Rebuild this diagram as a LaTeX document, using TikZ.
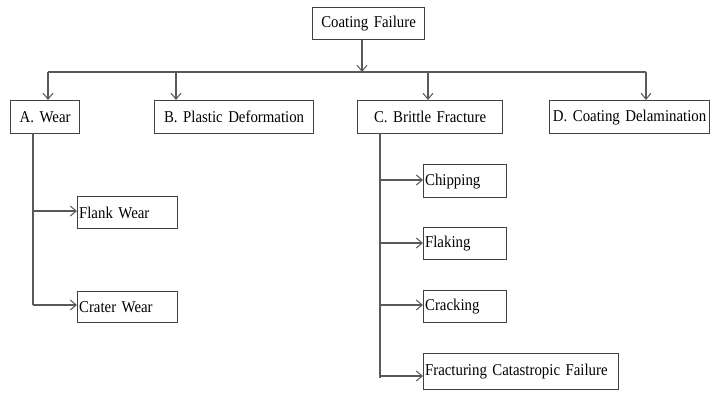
\documentclass[tikz,border=0pt]{standalone}
\usepackage{fontspec}
\setmainfont[FakeStretch=0.9]{Liberation Serif}
\usetikzlibrary{arrows.meta}
\begin{document}
\begin{tikzpicture}[x=1pt,y=-1pt,
  bx/.style={draw=black!75, line width=1.2pt, rectangle, anchor=north west,
    inner xsep=1.5pt, inner ysep=0pt, font=\fontsize{16.5}{19}\selectfont},
  ln/.style={draw=black!65, line width=1.2pt},
  ar/.style={ln, -{Straight Barb[length=6pt,width=10pt,line width=1pt]}}]
\useasboundingbox (0,0) rectangle (713,394);
\node[bx, text width=109pt, minimum height=32pt, align=center] (top) at (312,7) {\mbox{Coating Failure}};
\node[bx, text width=66pt, minimum height=33pt, align=center] (A) at (10,100) {\mbox{A. Wear}};
\node[bx, text width=156pt, minimum height=33pt, align=center] (B) at (154,100) {\mbox{B. Plastic Deformation}};
\node[bx, text width=142pt, minimum height=33pt, align=center] (C) at (357,100) {\mbox{C. Brittle Fracture}};
\node[bx, text width=157pt, minimum height=33pt, align=center] (D) at (549,100) {\mbox{D. Coating Delamination}};
\node[bx, text width=97pt, minimum height=32pt, align=left] (flank) at (77,196) {\mbox{Flank Wear}};
\node[bx, text width=97pt, minimum height=31pt, align=left] (crater) at (77,291) {\mbox{Crater Wear}};
\node[bx, text width=80pt, minimum height=33pt, align=left] (chip) at (423,164) {\mbox{Chipping}};
\node[bx, text width=80pt, minimum height=32pt, align=left] (flak) at (423,227) {\mbox{Flaking}};
\node[bx, text width=80pt, minimum height=32pt, align=left] (crack) at (423,290) {\mbox{Cracking}};
\node[bx, text width=192pt, minimum height=36pt, align=left] (fract) at (423,353) {\mbox{Fracturing Catastropic Failure}};
% bus
\coordinate (bus) at (362,72);
\coordinate (busL) at (48,72);
\coordinate (busR) at (646,72);
\coordinate (bB) at (176,72);
\coordinate (bC) at (428,72);
\draw[ar] (top.south -| bus) -- (bus);
\draw[ln] (busL) -- (busR);
\draw[ar] (busL) -- (busL |- A.north);
\draw[ar] (bB) -- (bB |- B.north);
\draw[ar] (bC) -- (bC |- C.north);
\draw[ar] (busR) -- (busR |- D.north);
% A branch
\coordinate (aT) at (33,133);
\coordinate (aB) at (33,305);
\draw[ln] (aT) -- (aB);
\coordinate (a1) at (33,211);
\coordinate (a2) at (33,305);
\draw[ar] (a1) -- (a1 -| flank.west);
\draw[ar] (a2) -- (a2 -| crater.west);
% C branch
\coordinate (cT) at (380,133);
\coordinate (cB) at (380,378);
\draw[ln] (cT) -- (cB);
\coordinate (c1) at (380,180);
\coordinate (c2) at (380,243);
\coordinate (c3) at (380,305);
\coordinate (c4) at (380,376);
\draw[ar] (c1) -- (c1 -| chip.west);
\draw[ar] (c2) -- (c2 -| flak.west);
\draw[ar] (c3) -- (c3 -| crack.west);
\draw[ar] (c4) -- (c4 -| fract.west);
\end{tikzpicture}
\end{document}
